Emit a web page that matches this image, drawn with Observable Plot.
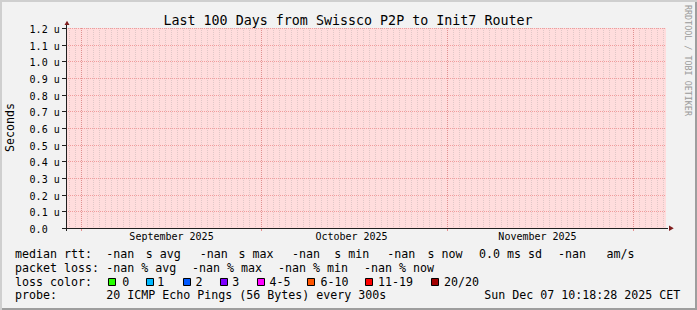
<!DOCTYPE html>
<html><head><meta charset="utf-8">
<script src="https://cdn.jsdelivr.net/npm/d3@7"></script>
<script src="https://cdn.jsdelivr.net/npm/@observablehq/plot@0.6"></script>
<style>
html,body{margin:0;padding:0;background:#F2F2F2;}
#chart{width:697px;height:310px;background:#F2F2F2;box-shadow:inset 2px 2px 0 #CFCFCF, inset -2px -2px 0 #9E9E9E;}
#chart svg{display:block;}
</style></head>
<body><div id="chart"></div>
<script>
// ---- data ----
const title = "Last 100 Days from Swissco P2P to Init7 Router";
const yAxisLabel = "Seconds";
const watermark = "RRDTOOL / TOBI OETIKER";
const timeStart = new Date("2025-08-29T09:18:28Z");
const timeEnd = new Date("2025-12-07T09:18:28Z");
const medianRtt = []; // all values unknown (-nan)
const unknownStarts = [timeStart];
const unknownEnds = [timeEnd];
const yTicks = [0, 0.1, 0.2, 0.3, 0.4, 0.5, 0.6, 0.7, 0.8, 0.9, 1.0, 1.1, 1.2];
const yTickLabels = ["0.0", "0.1 u", "0.2 u", "0.3 u", "0.4 u", "0.5 u", "0.6 u", "0.7 u", "0.8 u", "0.9 u", "1.0 u", "1.1 u", "1.2 u"];
const monthGrid = ["2025-08-31T22:00:00Z", "2025-09-30T22:00:00Z", "2025-10-31T22:00:00Z", "2025-12-01T22:00:00Z"];
const monthLabelTimes = ["2025-09-15T22:00:00Z", "2025-10-15T22:00:00Z", "2025-11-15T22:00:00Z"];
const monthLabels = ["September 2025", "October 2025", "November 2025"];
const rttLegend = ["median rtt:", "-nan", "s avg", "-nan", "s max", "-nan", "s min", "-nan", "s now", "0.0 ms sd", "-nan", "am/s"];
const lossLegend = ["packet loss:", "-nan % avg", "-nan % max", "-nan % min", "-nan % now"];
const lossColorTitle = "loss color:";
const lossLabels = ["0", "1", "2", "3", "4-5", "6-10", "11-19", "20/20"];
const lossColors = ["#26ff00", "#00b8ff", "#0059ff", "#7e00ff", "#ff00ff", "#ff5500", "#ff0000", "#a10000"];
const probeLegend = ["probe:", "20 ICMP Echo Pings (56 Bytes) every 300s"];
const timestamp = "Sun Dec 07 10:18:28 2025 CET";

// ---- layout ----
const W = 697, H = 310, FX = 66, FY = 28, FW = 600, FH = 200;
const FONT = "DejaVu Sans Mono";
const rttX = [15, 106.3, 145.8, 199.7, 238.5, 292, 334.2, 387.3, 427.5, 479, 558, 606.5];
const lossX = [15, 106.3, 192, 278, 364];
const squareCX = [112, 150, 187, 224, 261, 311, 369, 435];
const lossLabelX = [122.2, 157.3, 195.6, 232.2, 269.6, 320.6, 378, 443.9];
const rowBase = [258.3, 271.6, 285.5, 299.3];
const LEG = 11.63;

const at = (x, y) => ({frameAnchor: "top-left", dx: x - FX - 0.5, dy: y - FY - 0.5});
const txt = (s, x, y, o = {}) => Plot.text([s], {text: d => d, ...at(x, y), lineAnchor: "bottom", textAnchor: "start", fontFamily: FONT, fontSize: LEG, fill: "#000", ...o});

// daily grid at local (Europe/Zurich) midnight
const dstEnd = new Date("2025-10-26T01:00:00Z");
const dayGrid = d3.utcDay.range(d3.utcDay.floor(timeStart), d3.utcDay.offset(timeEnd, 1))
  .map(d => new Date(+d - (d < dstEnd ? 2 : 1) * 3600e3))
  .filter(d => d >= timeStart && d <= timeEnd);

const unknown = unknownStarts.map((s, i) => ({s, e: unknownEnds[i]}));

const marks = [
  Plot.rect(unknown, {x1: "s", x2: "e", fill: "#FFDDDD"}),
  Plot.ruleX(dayGrid, {stroke: "#8F8F8F", strokeOpacity: 0.28, strokeDasharray: "1,1"}),
  Plot.ruleY(yTicks.slice(1), {stroke: "#DE4F4F", strokeOpacity: 0.45, strokeDasharray: "1,1"}),
  Plot.ruleX(monthGrid.map(d => new Date(d)), {stroke: "#DE4F4F", strokeOpacity: 0.45, strokeDasharray: "1,1"}),
  Plot.ruleX(monthGrid.map(d => new Date(d)), {y1: 0, y2: 0, insetBottom: -3, stroke: "#DE4F4F", strokeOpacity: 0.6}),
  Plot.ruleY(yTicks, {stroke: "#1F1F1F", insetLeft: -4, insetRight: FW}),
  Plot.ruleY([0], {stroke: "#1F1F1F", insetLeft: -4, insetRight: -2}),
  Plot.ruleX([timeStart], {stroke: "#1F1F1F", insetTop: -4, insetBottom: -3}),
  Plot.dot([{t: timeEnd, v: 0}], {x: "t", y: "v", symbol: "triangle", rotate: 90, r: 2.04, fill: "#801F1F", stroke: "none", dx: 4.1, dy: -0.3}),
  Plot.dot([{t: timeStart, v: 1.2}], {x: "t", y: "v", symbol: "triangle", r: 1.86, fill: "#801F1F", stroke: "none", dx: 0.5, dy: -4.94}),
  // y tick labels
  Plot.text(yTicks, {y: d => d, text: (d, i) => yTickLabels[i], frameAnchor: "left", dx: 29.6 - FX - 0.5, dy: 4.4, lineAnchor: "bottom", textAnchor: "start", fontFamily: FONT, fontSize: 10, fill: "#000"}),
  // month labels
  Plot.text(monthLabelTimes.map(d => new Date(d)), {x: d => d, text: (d, i) => monthLabels[i], frameAnchor: "bottom", dy: 240.3 - 228 - 0.5, lineAnchor: "bottom", textAnchor: "middle", fontFamily: FONT, fontSize: 10, fill: "#000"}),
  // title
  Plot.text([title], {text: d => d, ...at(348, 25), lineAnchor: "bottom", textAnchor: "middle", fontFamily: FONT, fontSize: 13.33, fill: "#000"}),
  // y axis label
  Plot.text([yAxisLabel], {text: d => d, ...at(10.5, 127.5), lineAnchor: "middle", textAnchor: "middle", rotate: -90, fontFamily: FONT, fontSize: LEG, fill: "#000"}),
  // watermark
  Plot.text([watermark], {text: d => d, ...at(688, 5), lineAnchor: "middle", textAnchor: "start", rotate: 90, fontFamily: FONT, fontSize: 8.4, fill: "#9A9A9A"}),
  // legend
  ...rttLegend.map((s, i) => txt(s, rttX[i], rowBase[0])),
  ...lossLegend.map((s, i) => txt(s, lossX[i], rowBase[1])),
  txt(lossColorTitle, 15, rowBase[2]),
  ...lossColors.map((c, i) => Plot.dot([c], {...at(squareCX[i], 282), symbol: "square", r: 3.95, fill: c, stroke: "#000", strokeWidth: 1})),
  ...lossLabels.map((s, i) => txt(s, lossLabelX[i], rowBase[2])),
  ...probeLegend.map((s, i) => txt(s, [15, 106.3][i], rowBase[3])),
  txt(timestamp, 484.3, rowBase[3])
];

const chart = Plot.plot({
  width: W, height: H,
  marginLeft: FX, marginRight: W - FX - FW, marginTop: FY, marginBottom: H - FY - FH,
  x: {type: "utc", domain: [timeStart, timeEnd], round: true, axis: null},
  y: {type: "linear", domain: [0, 1.2], round: true, axis: null},
  style: {background: "transparent", overflow: "visible", fontFamily: FONT},
  marks
});
document.getElementById("chart").appendChild(chart);
</script>
</body></html>
